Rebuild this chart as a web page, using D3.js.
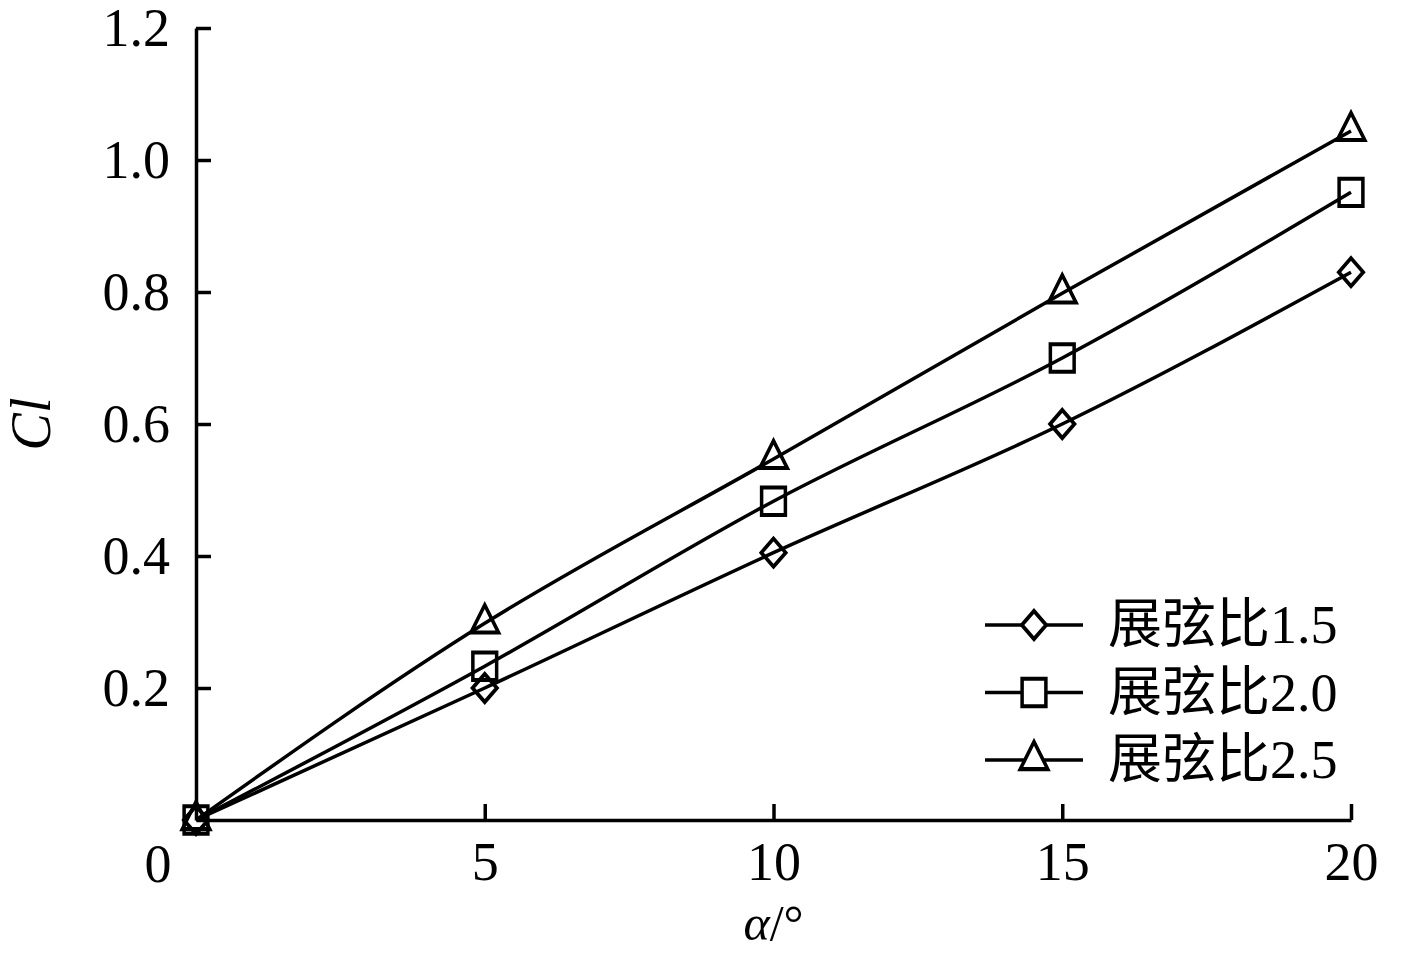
<!DOCTYPE html>
<html>
<head>
<meta charset="utf-8">
<script src="https://cdn.jsdelivr.net/npm/d3@7"></script>
<style>
  body { margin: 0; background: #fff; }
  svg text { font-family: "Liberation Serif", "Times New Roman", "Noto Sans CJK SC", serif; fill: #000; }
</style>
</head>
<body>
<div id="chart_div"></div>
<script>
var alpha = [0, 5, 10, 15, 20]
var cl_15 = [0, 0.20, 0.405, 0.60, 0.83]
var cl_20 = [0, 0.233, 0.483, 0.70, 0.951]
var cl_25 = [0, 0.298, 0.547, 0.798, 1.044]
var series_names = ['展弦比1.5', '展弦比2.0', '展弦比2.5']
var x_ticks = [5, 10, 15, 20]
var y_ticks = [0.2, 0.4, 0.6, 0.8, 1.0, 1.2]

function draw_chart(){
  var W = 1417, H = 953
  var margin = {top: 28, right: 66, bottom: 133, left: 196},
      width = W - margin.left - margin.right,
      height = H - margin.top - margin.bottom;

  var xScale = d3.scaleLinear().domain([0, 20]).range([0, width])
  var yScale = d3.scaleLinear().domain([0, 1.2]).range([height, 0])

  var svg = d3.select('#chart_div').append('svg')
    .attr('width', W).attr('height', H)
    .append('g')
    .attr('transform', 'translate(' + margin.left + ',' + margin.top + ')')

  // x axis, ticks pointing inward
  svg.append('g')
    .attr('class', 'xaxis')
    .attr('transform', 'translate(0,' + height + ')')
    .call(d3.axisBottom(xScale).tickValues(x_ticks).tickSizeInner(-16).tickSizeOuter(0).tickPadding(22).tickFormat(d3.format('d')))

  // y axis
  svg.append('g')
    .attr('class', 'yaxis')
    .call(d3.axisLeft(yScale).tickValues(y_ticks).tickSizeInner(-15).tickSizeOuter(0).tickPadding(26).tickFormat(d3.format('.1f')))

  svg.selectAll('path.domain').style('stroke', '#000').style('stroke-width', '3.5px')
  svg.selectAll('.tick line').style('stroke', '#000').style('stroke-width', '3.5px')
  svg.selectAll('.tick text').style('font-size', '54px').style('font-family', '"Liberation Serif", serif')

  // shared origin label
  svg.append('text')
    .attr('x', xScale(0) - 38)
    .attr('y', height + 62)
    .attr('text-anchor', 'middle')
    .style('font-size', '54px')
    .text('0')

  // axis titles
  svg.append('text')
    .attr('x', xScale(10))
    .attr('y', height + 120)
    .attr('text-anchor', 'middle')
    .style('font-size', '50px')
    .html('<tspan font-style="italic">α</tspan>/°')

  svg.append('text')
    .attr('transform', 'translate(' + (-146) + ',' + yScale(0.6) + ') rotate(-90)')
    .attr('text-anchor', 'middle')
    .style('font-size', '56px')
    .style('font-style', 'italic')
    .text('Cl')

  var all_series = [cl_15, cl_20, cl_25]
  var symbols = [d3.symbolDiamond2, d3.symbolSquare2, d3.symbolTriangle2]
  var sym_size = [380, 720, 540]

  var valueline = d3.line()
    .x(function(d, i){ return xScale(alpha[i]) })
    .y(function(d){ return yScale(d) })
    .curve(d3.curveMonotoneX)

  all_series.forEach(function(vals, k){
    svg.append('path')
      .datum(vals)
      .attr('d', valueline)
      .attr('fill', 'none')
      .style('stroke', '#000')
      .style('stroke-width', '3.5px')

    svg.selectAll('path.point' + k)
      .data(vals)
      .enter().append('path')
      .attr('class', 'point' + k)
      .attr('d', d3.symbol().type(symbols[k]).size(sym_size[k]))
      .attr('transform', function(d, i){
        return 'translate(' + xScale(alpha[i]) + ',' + yScale(d) + ') scale(1,1.15)'
      })
      .attr('fill', 'none')
      .style('stroke', '#000')
      .style('stroke-width', '3.5px')
  })

  // legend
  var legend = svg.append('g')
    .attr('transform', 'translate(' + (985 - margin.left) + ',' + (625 - margin.top) + ')')

  series_names.forEach(function(name, k){
    var g = legend.append('g').attr('transform', 'translate(0,' + (k * 67.5) + ')')
    g.append('line')
      .attr('x1', 0).attr('x2', 98).attr('y1', 0).attr('y2', 0)
      .style('stroke', '#000').style('stroke-width', '3.5px')
    g.append('path')
      .attr('d', d3.symbol().type(symbols[k]).size(sym_size[k]))
      .attr('transform', 'translate(49,0) scale(1,1.15)')
      .attr('fill', '#fff')
      .style('stroke', '#000').style('stroke-width', '3.5px')
    g.append('text')
      .attr('x', 123)
      .attr('y', 18)
      .style('font-size', '54px')
      .text(name)
  })
}

draw_chart()
</script>
</body>
</html>
